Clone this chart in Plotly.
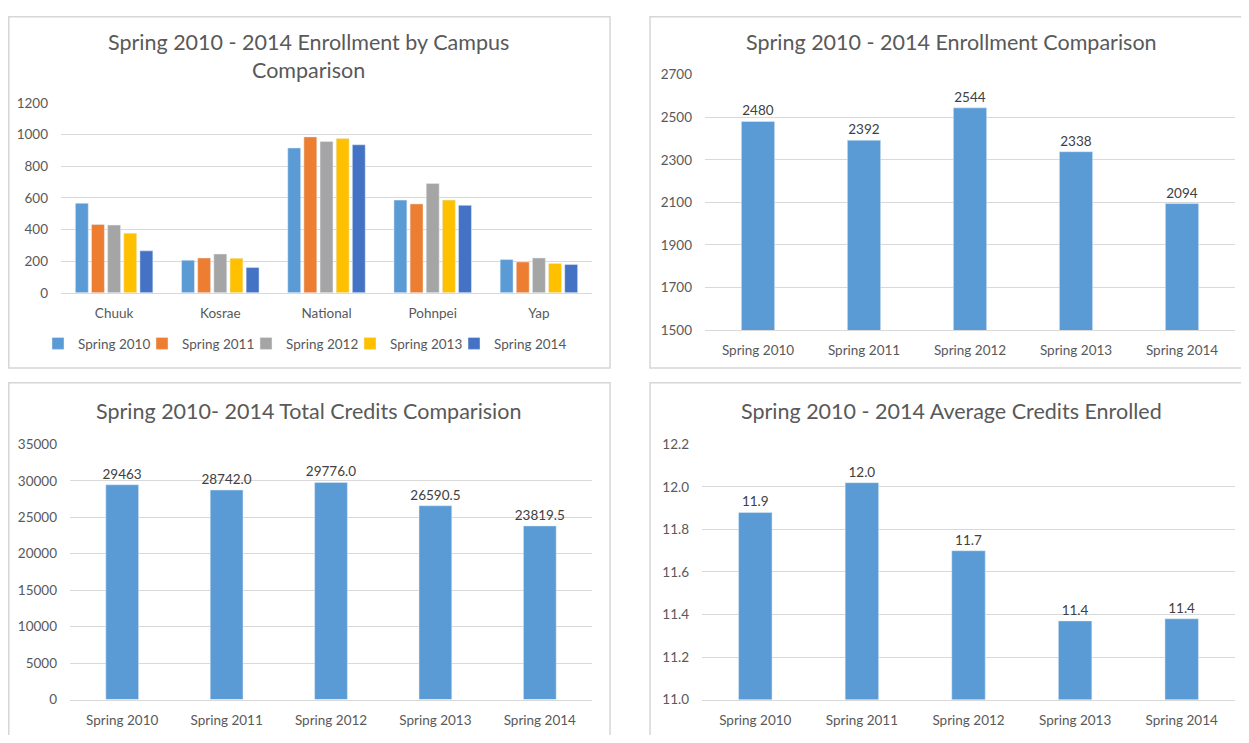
import plotly.graph_objects as go

# the page body adds an 8px margin: size the figure so the page fits the window
W, H = 1249, 743
OX, OY = 8, 8
FW, FH = W - 2 * OX, H - 2 * OY

# ---------------- data ----------------
campuses = ["Chuuk", "Kosrae", "National", "Pohnpei", "Yap"]
terms = ["Spring 2010", "Spring 2011", "Spring 2012", "Spring 2013", "Spring 2014"]

spring_2010 = [566, 206, 916, 586, 210]
spring_2011 = [432, 220, 986, 562, 195]
spring_2012 = [428, 245, 957, 691, 220]
spring_2013 = [377, 218, 975, 586, 185]
spring_2014 = [265, 160, 936, 553, 179]

total_enrollment = [2480, 2392, 2544, 2338, 2094]
total_credits = [29463, 28742.0, 29776.0, 26590.5, 23819.5]
total_credits_labels = ["29463", "28742.0", "29776.0", "26590.5", "23819.5"]
avg_credits = [11.88, 12.02, 11.70, 11.37, 11.38]

campus_series = [spring_2010, spring_2011, spring_2012, spring_2013, spring_2014]
series_colors = ["#5B9BD5", "#ED7D31", "#A5A5A5", "#FFC000", "#4472C4"]

# ---------------- styling ----------------
FONT = "Lato"
TXT = "#595959"
LBL = "#404040"
GRID = "#D9D9D9"
BORDER = "#D6D6D6"
BLUE = "#5B9BD5"
TICK = 13.5
TITLE = 21.5
BAR_W = 0.314


def px(x):
    return (x - OX) / FW


def py(y):
    return 1 - (y - OY) / FH


fig = go.Figure()

# Panel 1: grouped bars by campus
for name, vals, col in zip(terms, campus_series, series_colors):
    fig.add_trace(go.Bar(x=campuses, y=vals, name=name, marker_color=col,
                         xaxis="x", yaxis="y", showlegend=True))

label_font = dict(size=TICK, color=LBL, family=FONT)

# Panel 2: total enrollment
fig.add_trace(go.Bar(x=terms, y=total_enrollment, marker_color=BLUE,
                     width=BAR_W, offset=-BAR_W / 2,
                     text=[str(v) for v in total_enrollment], textposition="outside",
                     textfont=label_font, constraintext="none", cliponaxis=False,
                     xaxis="x2", yaxis="y2", showlegend=False))

# Panel 3: total credits
fig.add_trace(go.Bar(x=terms, y=total_credits, marker_color=BLUE,
                     width=BAR_W, offset=-BAR_W / 2,
                     text=total_credits_labels, textposition="outside",
                     textfont=label_font, constraintext="none", cliponaxis=False,
                     xaxis="x3", yaxis="y3", showlegend=False))

# Panel 4: average credits
fig.add_trace(go.Bar(x=terms, y=avg_credits, marker_color=BLUE,
                     width=BAR_W, offset=-BAR_W / 2,
                     texttemplate="%{y:.1f}", textposition="outside",
                     textfont=label_font, constraintext="none", cliponaxis=False,
                     xaxis="x4", yaxis="y4", showlegend=False))

# invisible trailing legend slot so the last legend label is not clipped
fig.add_trace(go.Scatter(x=[None], y=[None], name=" ", mode="markers",
                         marker=dict(opacity=0, color="white"),
                         xaxis="x2", yaxis="y2", showlegend=True, hoverinfo="skip"))

xcommon = dict(showgrid=False, zeroline=False, showline=True, linecolor=GRID, linewidth=1,
               ticks="", tickfont=dict(size=TICK, color=TXT, family=FONT),
               ticklabelstandoff=8, fixedrange=True)
ycommon = dict(showgrid=True, gridcolor=GRID, gridwidth=1, zeroline=False, showline=False,
               ticks="", tickfont=dict(size=TICK, color=TXT, family=FONT),
               ticklabelstandoff=12, fixedrange=True)

fig.update_layout(
    width=FW, height=FH,
    margin=dict(l=0, r=0, t=0, b=0),
    paper_bgcolor="white", plot_bgcolor="white",
    font=dict(family=FONT, color=TXT),
    barmode="group", bargap=0.24, bargroupgap=0.2,
    xaxis=dict(domain=[px(61), px(592)], anchor="y", **xcommon),
    yaxis=dict(domain=[py(291), py(97)], anchor="x", range=[0, 1200], dtick=200, **ycommon),
    xaxis2=dict(domain=[px(705), px(1235)], anchor="y2", **xcommon),
    yaxis2=dict(domain=[py(329), py(68)], anchor="x2", range=[1500, 2700], tick0=1500,
                dtick=200, **ycommon),
    xaxis3=dict(domain=[px(70), px(592)], anchor="y3", **xcommon),
    yaxis3=dict(domain=[py(707), py(446)], anchor="x3", range=[0, 35000], dtick=5000,
                tickformat="d", **ycommon),
    xaxis4=dict(domain=[px(702), px(1235)], anchor="y4", **xcommon),
    yaxis4=dict(domain=[py(707), py(446)], anchor="x4", range=[11.0, 12.2], tick0=11,
                dtick=0.2, tickformat=".1f", **ycommon),
    legend=dict(orientation="h", x=px(38), xanchor="left", y=py(343), yanchor="middle",
                font=dict(size=TICK, color=TXT, family=FONT), bgcolor="rgba(0,0,0,0)",
                entrywidth=59, entrywidthmode="pixels",
                itemclick=False, itemdoubleclick=False),
)

# panel borders (top/left edges clamped to the visible figure area)
for x0, y0, x1, y1 in [(8.8, 8.8, 610, 368), (650, 8.8, 1260, 368),
                       (8.8, 383, 610, 760), (650, 383, 1260, 760)]:
    fig.add_shape(type="rect", xref="paper", yref="paper",
                  x0=px(x0), y0=py(y0), x1=px(x1), y1=py(y1),
                  line=dict(color=BORDER, width=1.5), fillcolor="rgba(0,0,0,0)", layer="below")

# titles
titles = [
    ("Spring 2010 - 2014 Enrollment by Campus<br>Comparison", 308, 49),
    ("Spring 2010 - 2014 Enrollment Comparison", 951, 35),
    ("Spring 2010- 2014 Total Credits Comparision", 308, 412),
    ("Spring 2010 - 2014 Average Credits Enrolled", 951, 412),
]
for text, x, y in titles:
    fig.add_annotation(text=text, xref="paper", yref="paper", x=px(x), y=py(y),
                       xanchor="center", yanchor="middle", showarrow=False,
                       font=dict(size=TITLE, color=TXT, family=FONT))

fig.write_html("out.html")
